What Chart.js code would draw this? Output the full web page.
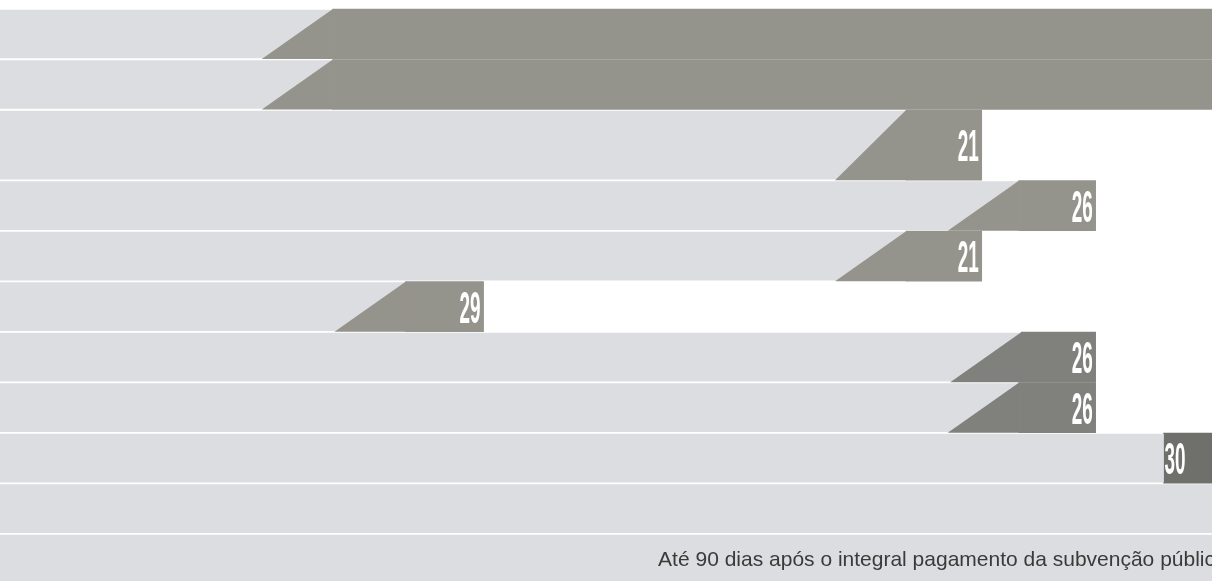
<!DOCTYPE html>
<html>
<head>
<meta charset="utf-8">
<script src="https://cdn.jsdelivr.net/npm/chart.js@4.4.1/dist/chart.umd.min.js"></script>
<style>
html, body { margin: 0; padding: 0; background: #fff; }
#wrap { width: 1212px; height: 581px; }
</style>
</head>
<body>
<div id="wrap"><canvas id="chart"></canvas></div>
<script>
// rows top to bottom, x in % of the visible time line
var phaseStart = [21.6, 21.6, 68.9, 78.2, 68.9, 27.6, 78.4, 78.2, 96.0, null, null];
var phaseEnd = [112, 112, 81.0, 90.4, 81.0, 39.9, 90.4, 90.4, 108, null, null];
var phaseLabels = ['', '', '21', '26', '21', '29', '26', '26', '30', '', ''];
var phaseKind = ['span', 'span', 'span', 'span', 'span', 'span', 'span', 'span', 'mark', 'none', 'none'];
var rowNotes = ['', '', '', '', '', '', '', '', '', '', 'Até 90 dias após o integral pagamento da subvenção pública'];

// layout / style
var rowHeights = [1, 1, 1.4, 1, 1, 1, 1, 1, 1, 1, 1];
var ROW_PX = 50.5;
var SLANT = 5.86;
var NOTE_AT = 54.3;
var LIGHT = '#dcdde0';
var darkColors = ['#95948c', '#95948c', '#95948c', '#95948c', '#95948c', '#95948c', '#80817c', '#80817c', '#6f6f6b'];

var centers = [];
var acc = 0;
rowHeights.forEach(function (h) {
    centers.push(acc + h / 2);
    acc += h;
});

var datasets = [];
for (var i = 0; i < rowHeights.length; i++) {
    var kind = phaseKind[i];
    var lightEnd = kind === 'none' ? 112 : (kind === 'mark' ? phaseStart[i] : phaseStart[i] + SLANT);
    datasets.push({
        data: [{y: centers[i], x: [0, lightEnd]}],
        backgroundColor: LIGHT,
        barThickness: rowHeights[i] * ROW_PX - 2.5,
        row: i
    });
    if (kind !== 'none') {
        var darkFrom = kind === 'mark' ? phaseStart[i] : phaseStart[i] + SLANT;
        datasets.push({
            data: [{y: centers[i], x: [darkFrom, phaseEnd[i]]}],
            backgroundColor: darkColors[i],
            barThickness: rowHeights[i] * ROW_PX - 0.5,
            row: i,
            dark: true
        });
    }
}

var phasePlugin = {
    id: 'phases',
    afterDatasetsDraw: function (chart) {
        var ctx = chart.ctx;
        var xs = chart.scales.x;
        chart.data.datasets.forEach(function (ds, di) {
            if (!ds.dark) return;
            var r = ds.row;
            var bar = chart.getDatasetMeta(di).data[0];
            var top = bar.y - bar.height / 2;
            var bottom = bar.y + bar.height / 2;
            ctx.save();
            if (phaseKind[r] === 'span') {
                ctx.fillStyle = darkColors[r];
                ctx.beginPath();
                ctx.moveTo(xs.getPixelForValue(phaseStart[r]), bottom);
                ctx.lineTo(xs.getPixelForValue(phaseStart[r] + SLANT), top);
                ctx.lineTo(xs.getPixelForValue(phaseStart[r] + SLANT) + 1, top);
                ctx.lineTo(xs.getPixelForValue(phaseStart[r] + SLANT) + 1, bottom);
                ctx.closePath();
                ctx.fill();
            }
            if (phaseLabels[r]) {
                ctx.fillStyle = '#ffffff';
                ctx.font = 'bold 45px "Liberation Sans", Arial, sans-serif';
                var tx, align;
                if (phaseKind[r] === 'mark') {
                    tx = xs.getPixelForValue(phaseStart[r]) + 1;
                    align = 'left';
                } else {
                    tx = xs.getPixelForValue(phaseEnd[r]) - 3;
                    align = 'right';
                }
                ctx.translate(tx, bar.y + 16);
                ctx.scale(0.42, 1);
                ctx.textAlign = align;
                ctx.textBaseline = 'alphabetic';
                ctx.fillText(phaseLabels[r], 0, 0);
            }
            ctx.restore();
        });
        var ys = chart.scales.y;
        rowNotes.forEach(function (t, r) {
            if (!t) return;
            ctx.save();
            ctx.fillStyle = '#3a3a3a';
            ctx.font = '21px "Liberation Sans", Arial, sans-serif';
            ctx.textAlign = 'left';
            ctx.textBaseline = 'alphabetic';
            ctx.fillText(t, xs.getPixelForValue(NOTE_AT), ys.getPixelForValue(centers[r]) + 7);
            ctx.restore();
        });
    }
};

var ctx = document.getElementById('chart').getContext('2d');
var myChart = new Chart(ctx, {
    type: 'bar',
    data: { datasets: datasets },
    options: {
        indexAxis: 'y',
        grouped: false,
        responsive: true,
        maintainAspectRatio: false,
        animation: false,
        layout: { padding: 0 },
        plugins: {
            legend: { display: false },
            tooltip: { enabled: false }
        },
        scales: {
            x: { type: 'linear', min: 0, max: 100, offset: false, display: false },
            y: { type: 'linear', min: -0.173, max: 11.332, reverse: true, offset: false, grace: 0, display: false }
        }
    },
    plugins: [phasePlugin]
});
</script>
</body>
</html>
